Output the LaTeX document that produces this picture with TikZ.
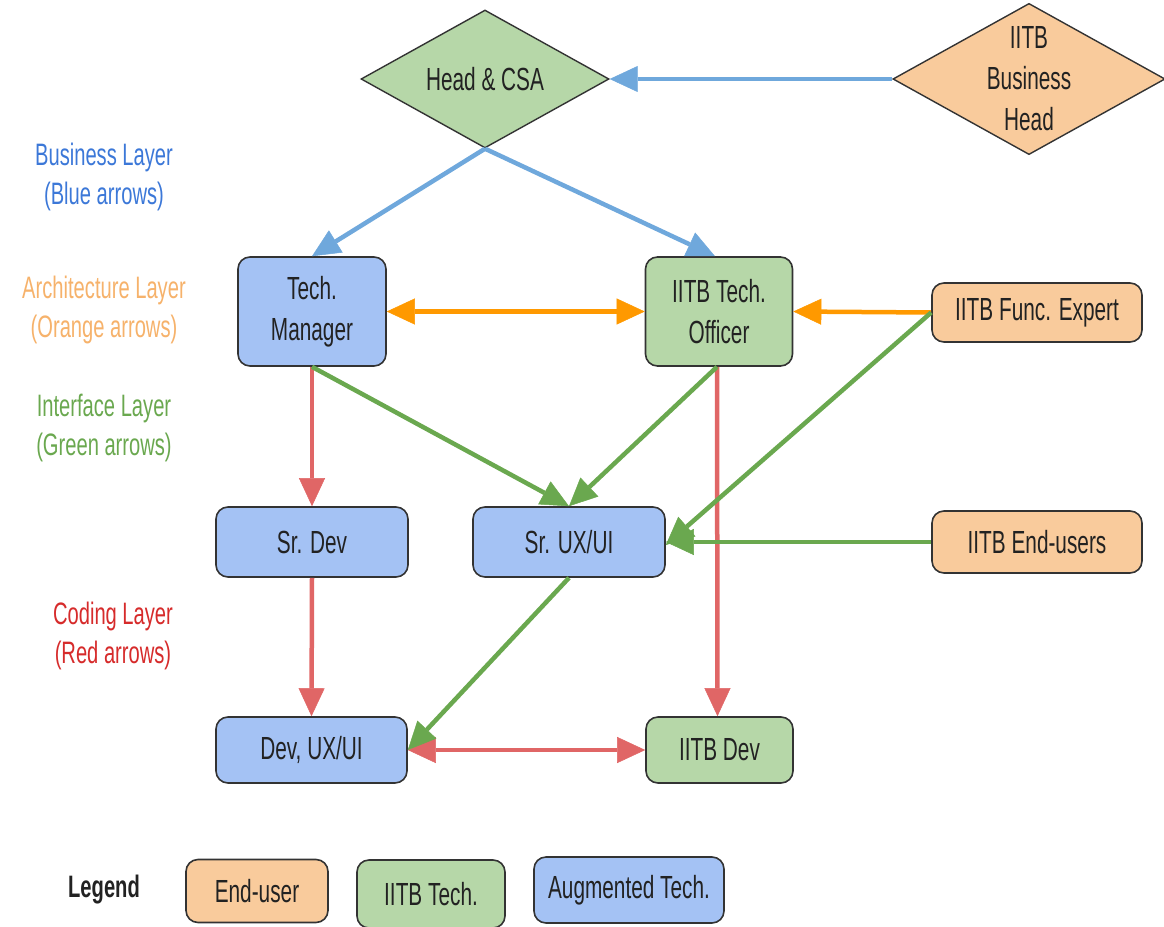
\documentclass[tikz,border=0pt]{standalone}
\usepackage{fontspec}
\setmainfont[FakeStretch=0.65]{Liberation Sans}
\usetikzlibrary{shapes.geometric,arrows.meta}
\definecolor{bluefill}{HTML}{A4C2F4}
\definecolor{greenfill}{HTML}{B6D7A8}
\definecolor{orangefill}{HTML}{F9CB9C}
\definecolor{edgecol}{HTML}{333333}
\definecolor{txtcol}{HTML}{222222}
\definecolor{bluearr}{HTML}{6FA8DC}
\definecolor{orangearr}{HTML}{FF9900}
\definecolor{greenarr}{HTML}{6AA84F}
\definecolor{redarr}{HTML}{E06666}
\definecolor{bluelab}{HTML}{3C78D8}
\definecolor{orangelab}{HTML}{F6B26B}
\definecolor{greenlab}{HTML}{6AA84F}
\definecolor{redlab}{HTML}{D62B2B}
\begin{document}
\begin{tikzpicture}[x=1pt,y=-1pt,
  nfont/.style={font=\fontsize{32}{41}\selectfont},
  box/.style={draw=edgecol, line width=1.6pt, rounded corners=12pt, text=txtcol,
    inner sep=0pt, align=center, nfont},
  dia/.style={diamond, draw=edgecol, line width=1.4pt, text=txtcol, inner sep=0pt,
    aspect=1.8, align=center, nfont},
  bluebox/.style={box, fill=bluefill},
  greenbox/.style={box, fill=greenfill},
  orangebox/.style={box, fill=orangefill},
  lab/.style={align=center, font=\fontsize{31}{39}\selectfont},
  tipx/.tip={Triangle[length=28pt,width=26pt,line width=0.5pt]},
  arr/.style={line width=4.5pt, -tipx},
  darr/.style={line width=4.5pt, tipx-tipx},
]
\useasboundingbox (0,0) rectangle (1164,926);

% nodes
\node[dia, fill=greenfill, minimum width=248pt, minimum height=138pt] (head) at (485,79) {Head \& CSA};
\node[dia, fill=orangefill, minimum width=268pt, minimum height=139pt] (bizhead) at (1029,79) {IITB\\Business\\Head};

\node[bluebox, minimum width=148pt, minimum height=109pt] (techmgr) at (312,311.5) {Tech.\\Manager};
\node[greenbox, minimum width=147pt, minimum height=109pt] (officer) at (719,311.5) {IITB Tech.\\Officer};
\node[orangebox, minimum width=210pt, minimum height=59pt] (funcexp) at (1037,312.5) {IITB Func. Expert};

\node[bluebox, minimum width=192pt, minimum height=70pt] (srdev) at (312,542) {Sr. Dev};
\node[bluebox, minimum width=192pt, minimum height=70pt] (srux) at (569,542) {Sr. UX/UI};
\node[orangebox, minimum width=210pt, minimum height=62pt] (enduser) at (1037,542) {IITB End-users};

\node[bluebox, minimum width=191pt, minimum height=66pt] (devux) at (311.5,750) {Dev, UX/UI};
\node[greenbox, minimum width=147pt, minimum height=66pt] (iitbdev) at (719.5,750) {IITB Dev};

% layer labels
\node[lab, text=bluelab] (lbiz) at (104,177) {Business Layer\\(Blue arrows)};
\node[lab, text=orangelab] (larch) at (104,310) {Architecture Layer\\(Orange arrows)};
\node[lab, text=greenlab] (lint) at (104,428) {Interface Layer\\(Green arrows)};
\node[lab, text=redlab] (lcod) at (113,636) {Coding Layer\\(Red arrows)};

% legend
\node[font=\fontsize{31}{36}\selectfont\bfseries, text=txtcol] (legend) at (104,890) {Legend};
\node[orangebox, minimum width=142pt, minimum height=63pt] (lgend) at (257,891) {End-user};
\node[greenbox, minimum width=148pt, minimum height=68pt] (lgiitb) at (431,894) {IITB Tech.};
\node[bluebox, minimum width=190pt, minimum height=66pt] (lgaug) at (629,890) {Augmented Tech.};

% arrows
\draw[arr, bluearr] (bizhead.west) -- (head.east);
\draw[arr, bluearr] (head.south) -- (techmgr.north);
\draw[arr, bluearr] (head.south) -- ([xshift=-4pt]officer.north);

\draw[darr, orangearr] (techmgr.east) -- (officer.west);
\draw[arr, orangearr] (funcexp.west) -- (officer.east);

\draw[arr, redarr] (techmgr.south) -- (srdev.north);
\draw[arr, redarr] ([xshift=-2pt]officer.south) -- ([xshift=-2pt]iitbdev.north);
\draw[arr, redarr] (srdev.south) -- (devux.north);
\draw[darr, redarr] (devux.east) -- (iitbdev.west);

\draw[arr, greenarr] (techmgr.south) -- (srux.north);
\draw[arr, greenarr] ([xshift=-2pt]officer.south) -- (srux.north);
\draw[arr, greenarr] (funcexp.west) -- ([yshift=-3pt]srux.east);
\draw[arr, greenarr] (enduser.west) -- (srux.east);
\draw[arr, greenarr] (srux.south) -- (devux.east);
\end{tikzpicture}
\end{document}
